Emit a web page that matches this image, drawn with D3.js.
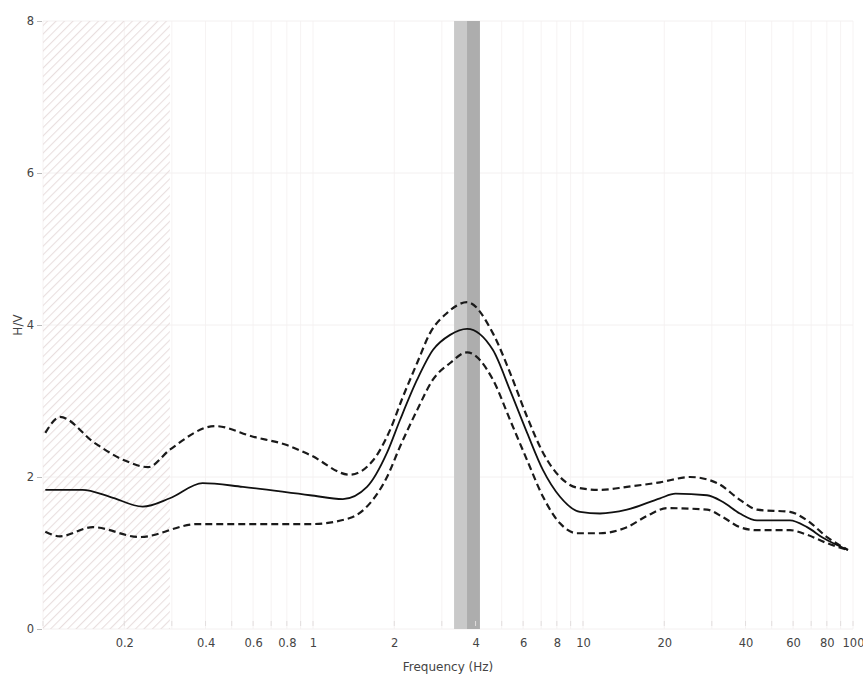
<!DOCTYPE html>
<html><head><meta charset="utf-8">
<script src="https://cdn.jsdelivr.net/npm/d3@7"></script>
<style>body{margin:0;background:#fff;}svg{display:block;}</style>
</head><body>
<svg id="chart" width="863" height="677"></svg>
<script>
// ---- data ----
const meanFreq = [0.102,0.14,0.177,0.234,0.295,0.39,0.55,0.975,1.29,1.585,1.88,2.10,2.43,2.78,3.22,3.72,4.64,5.37,6.21,7.11,8.22,9.75,11.56,14.55,19.3,22,28.8,33.0,38.1,44.1,58.4,67.6,77.4,95.8];
const meanHV   = [1.83,1.83,1.74,1.61,1.72,1.92,1.87,1.76,1.71,1.87,2.32,2.75,3.28,3.67,3.87,3.95,3.67,3.14,2.58,2.09,1.74,1.54,1.52,1.57,1.72,1.78,1.76,1.67,1.52,1.43,1.43,1.34,1.20,1.04];
const upperFreq = [0.102,0.1156,0.155,0.2,0.245,0.295,0.434,0.6,0.8,0.975,1.37,1.67,1.93,2.15,2.43,2.71,3.14,3.72,4.64,5.37,6.21,7.11,8.22,9.5,11.56,14.55,19.3,24.9,31.4,38.1,44.1,58.4,67.6,80.1,95.8];
const upperHV   = [2.58,2.79,2.45,2.22,2.13,2.36,2.67,2.53,2.42,2.29,2.03,2.22,2.62,3.05,3.5,3.89,4.16,4.30,3.89,3.37,2.79,2.32,2.00,1.86,1.83,1.87,1.93,2.00,1.92,1.70,1.57,1.54,1.43,1.21,1.04];
const lowerFreq = [0.102,0.1156,0.153,0.228,0.372,0.975,1.37,1.63,1.88,2.10,2.43,2.78,3.22,3.72,4.64,5.37,6.21,7.11,8.22,9.5,11.56,14.55,17.5,20.5,28.8,33.0,38.1,44.1,58.4,67.6,80.1,95.8];
const lowerHV   = [1.28,1.22,1.34,1.21,1.38,1.38,1.46,1.66,2.00,2.40,2.88,3.28,3.50,3.64,3.28,2.75,2.22,1.74,1.39,1.26,1.26,1.34,1.50,1.59,1.57,1.47,1.34,1.30,1.30,1.24,1.13,1.04];
const xTicks = [0.2,0.4,0.6,0.8,1,2,4,6,8,10,20,40,60,80,100];
const xTickLabels = ["0.2","0.4","0.6","0.8","1","2","4","6","8","10","20","40","60","80","100"];
const yTicks = [0,2,4,6,8];
const hatchRange = [0.1, 0.295];
const peakBand = [3.33, 4.15];
const peakInner = [3.72, 4.15];

// ---- chart ----
const svg = d3.select("#chart");
const x = d3.scaleLog().domain([0.1,100]).range([43,853]);
const y = d3.scaleLinear().domain([0,8]).range([629,21]);

const defs = svg.append("defs");
const pat = defs.append("pattern").attr("id","hatch").attr("patternUnits","userSpaceOnUse")
  .attr("width",6).attr("height",6).attr("patternTransform","rotate(45)");
pat.append("line").attr("x1",0).attr("y1",0).attr("x2",0).attr("y2",6)
  .attr("stroke","#e9dfdf").attr("stroke-width",2.2);

// faint grid
const minor = [];
[0.1,1,10].forEach(d=>{for(let k=1;k<10;k++) minor.push(d*k);});
minor.push(100);
svg.append("g").selectAll("line").data(minor).join("line")
  .attr("x1",d=>x(d)).attr("x2",d=>x(d)).attr("y1",y(8)).attr("y2",y(0))
  .attr("stroke","#f6f3f3").attr("stroke-width",1);
svg.append("g").selectAll("line").data(yTicks).join("line")
  .attr("x1",x(0.1)).attr("x2",x(100)).attr("y1",d=>y(d)).attr("y2",d=>y(d))
  .attr("stroke","#f3f0f0").attr("stroke-width",1);

// hatched low-frequency region
svg.append("rect").attr("x",x(hatchRange[0])).attr("width",x(hatchRange[1])-x(hatchRange[0]))
  .attr("y",y(8)).attr("height",y(0)-y(8)).attr("fill","url(#hatch)");

// peak band
svg.append("rect").attr("x",x(peakBand[0])).attr("width",x(peakBand[1])-x(peakBand[0]))
  .attr("y",y(8)).attr("height",y(0)-y(8)).attr("fill","#c9c9c9");
svg.append("rect").attr("x",x(peakInner[0])).attr("width",x(peakInner[1])-x(peakInner[0]))
  .attr("y",y(8)).attr("height",y(0)-y(8)).attr("fill","#adadad");

// curves
const line = d3.line().x(d=>x(d[0])).y(d=>y(d[1])).curve(d3.curveMonotoneX);
const zip = (a,b)=>a.map((v,i)=>[v,b[i]]);
svg.append("path").datum(zip(upperFreq,upperHV)).attr("d",line)
  .attr("fill","none").attr("stroke","#1a1a1a").attr("stroke-width",2.2).attr("stroke-dasharray","7,4");
svg.append("path").datum(zip(lowerFreq,lowerHV)).attr("d",line)
  .attr("fill","none").attr("stroke","#1a1a1a").attr("stroke-width",2.2).attr("stroke-dasharray","7,4");
svg.append("path").datum(zip(meanFreq,meanHV)).attr("d",line)
  .attr("fill","none").attr("stroke","#111").attr("stroke-width",1.8);

// axes
const font = "DejaVu Sans, sans-serif";
const xAxis = d3.axisBottom(x).tickValues(xTicks).tickFormat((d,i)=>xTickLabels[i]).tickSize(0).tickPadding(0);
const gx = svg.append("g").attr("transform",`translate(0,${y(0)+10})`).call(xAxis);
gx.select(".domain").remove();
gx.selectAll("text").attr("font-family",font).attr("font-size",11.5).attr("fill","#444");

// small inner ticks at bottom
svg.append("g").selectAll("line").data(minor).join("line")
  .attr("x1",d=>x(d)).attr("x2",d=>x(d)).attr("y1",y(0)-8).attr("y2",y(0)-3)
  .attr("stroke","#e2dede").attr("stroke-width",1);

const yAxis = d3.axisLeft(y).tickValues(yTicks).tickFormat(d3.format("d")).tickSize(5).tickPadding(3);
const gy = svg.append("g").attr("transform",`translate(42,0)`).call(yAxis);
gy.select(".domain").remove();
gy.selectAll(".tick line").attr("stroke","#bbb");
gy.selectAll("text").attr("font-family",font).attr("font-size",11.5).attr("fill","#444");

svg.append("text").attr("x",(x(0.1)+x(100))/2).attr("y",671).attr("text-anchor","middle")
  .attr("font-family",font).attr("font-size",12).attr("fill","#444").text("Frequency (Hz)");
svg.append("text").attr("transform",`translate(22,${y(4)}) rotate(-90)`).attr("text-anchor","middle")
  .attr("font-family",font).attr("font-size",12).attr("fill","#444").text("H/V");
</script>
</body></html>
